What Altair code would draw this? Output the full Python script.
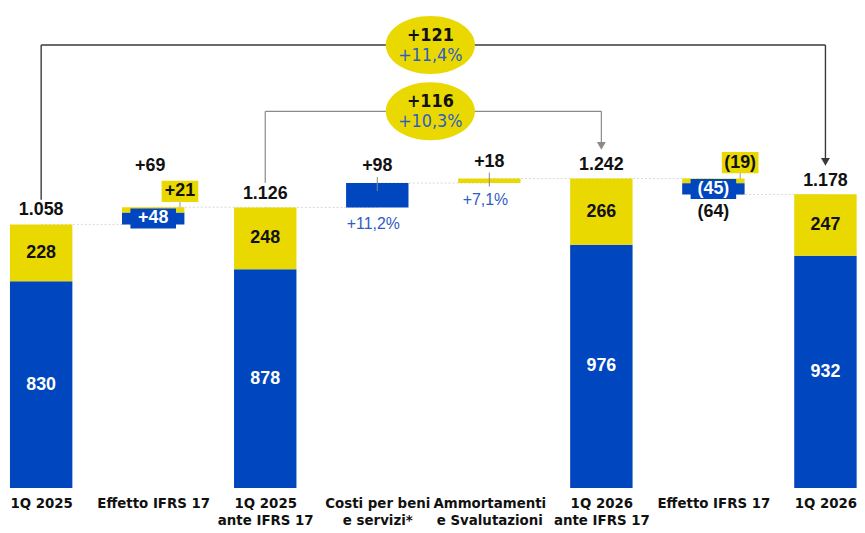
import json
import altair as alt
import pandas as pd

# ---------------- data ----------------
categories = ["1Q 2025", "Effetto IFRS 17", "1Q 2025|ante IFRS 17", "Costi per beni|e servizi*",
              "Ammortamenti|e Svalutazioni", "1Q 2026|ante IFRS 17", "Effetto IFRS 17", "1Q 2026"]
kinds = ["total", "delta", "total", "delta", "delta", "total", "delta", "total"]
blue_vals = [830, 48, 878, 98, 0, 976, -45, 932]
yellow_vals = [228, 21, 248, 0, 18, 266, -19, 247]
total_vals = [1058, 69, 1126, 98, 18, 1242, -64, 1178]
pct_labels = {3: "+11,2%", 4: "+7,1%"}
brackets = [  # from index, to index, change, change %
    {"a": 0, "b": 7, "chg": "+121", "pct": "+11,4%"},
    {"a": 2, "b": 5, "chg": "+116", "pct": "+10,3%"},
]

# ---------------- style / layout ----------------
BLUE = "#0046BE"
YELLOW = "#EAD900"
PCT_BLUE = "#2E5DC4"
FONT = "Liberation Sans"
NARROW = "'Liberation Sans Narrow', 'Arial Narrow', 'DejaVu Sans Condensed', 'Liberation Sans'"
W, H = 855, 482
X_DOM = [-0.296, 7.264]
Y_DOM = [0, 1917]
BAR_W = 63
BRACKET_LEVELS = [1778, 1512]
BRACKET_STYLE = [("#3a3a3a", 1.4), ("#8a8a8a", 1.2)]


def fmt_total(v):
    return f"{v:,}".replace(",", ".")


def fmt_delta(v):
    return f"+{v}" if v > 0 else f"({-v})"


# ---------------- derived tables ----------------
segs, inner, tops, levels = [], [], [], []
level = 0
for i, (k, b, yv, t) in enumerate(zip(kinds, blue_vals, yellow_vals, total_vals)):
    if k == "total":
        segs.append(dict(i=i, y0=0, y1=b, part="blue", kind=k))
        segs.append(dict(i=i, y0=b, y1=b + yv, part="yellow", kind=k))
        inner.append(dict(i=i, y=b / 2, text=str(b), part="blue"))
        inner.append(dict(i=i, y=b + yv / 2, text=str(yv), part="yellow"))
        level = t
        tops.append(dict(i=i, top=t, bottom=0, kind=k, text=fmt_total(t), t=t, boxes=False))
    else:
        start = level
        order = [("blue", b), ("yellow", yv)] if t > 0 else [("yellow", yv), ("blue", b)]
        cur = start
        for part, v in order:
            if v != 0:
                segs.append(dict(i=i, y0=cur, y1=cur + v, part=part, kind=k))
                if b != 0 and yv != 0:
                    inner.append(dict(i=i, y=cur + v / 2, text=fmt_delta(v), part=part + "_box"))
            cur += v
        level = cur
        tops.append(dict(i=i, top=max(start, cur), bottom=min(start, cur), kind=k,
                         text=fmt_delta(t), t=t, boxes=(b != 0 and yv != 0)))
    levels.append(dict(i=i, j=i + 1, level=level))

seg_df = pd.DataFrame(segs)
inner_df = pd.DataFrame(inner)
tops_df = pd.DataFrame(tops)
conn_df = pd.DataFrame(levels[:-1])

label_arrays = [c.split("|") for c in categories]
label_expr = json.dumps(label_arrays) + "[round(datum.value)]"

xs = alt.Scale(domain=X_DOM, nice=False, zero=False, padding=0)
ys = alt.Scale(domain=Y_DOM, nice=False, zero=False, padding=0)
x_axis = alt.Axis(values=list(range(len(categories))), labelExpr=label_expr,
                  domain=False, ticks=False, grid=False, title=None,
                  labelFont=NARROW, labelFontSize=15, labelFontWeight="bold",
                  labelColor="#111", labelPadding=8, labelLineHeight=17,
                  labelBaseline="top", labelFlush=False, labelOverlap=False, labelAlign="center")
X = lambda f="i": alt.X(f"{f}:Q", scale=xs, axis=x_axis)
Y = lambda f: alt.Y(f"{f}:Q", scale=ys, axis=None)

base = alt.Chart(seg_df)

connectors = alt.Chart(conn_df).mark_rule(color="#d8d8d8", strokeDash=[2, 2], strokeWidth=1).encode(
    x=X("i"), x2="j:Q", y=Y("level"))

color_enc = alt.Color("part:N", scale=alt.Scale(domain=["blue", "yellow"], range=[BLUE, YELLOW]), legend=None)
bars = base.mark_bar(size=BAR_W).encode(x=X(), y=Y("y0"), y2="y1:Q", color=color_enc)

# leader lines
tops_chart = alt.Chart(tops_df)
leaders_box = tops_chart.transform_filter("datum.boxes == true").mark_rule(
    color="#999", strokeWidth=1, xOffset=27, y2Offset=-6).encode(x=X(), y=Y("top"), y2="top:Q")
leaders_c = tops_chart.transform_filter("datum.kind == 'delta' && datum.boxes != true").mark_rule(
    color="#888", strokeWidth=1, yOffset=-6, y2Offset=8).encode(x=X(), y=Y("top"), y2="top:Q")

# text labels
total_lbl = tops_chart.transform_filter("datum.kind == 'total'").mark_text(
    font=FONT, fontSize=18, fontWeight="bold", color="#111", dy=-14, baseline="middle").encode(
    x=X(), y=Y("top"), text="text:N")

inner_chart = alt.Chart(inner_df)
inner_blue = inner_chart.transform_filter("datum.part == 'blue'").mark_text(
    font=FONT, fontSize=18, fontWeight="bold", color="white", baseline="middle").encode(
    x=X(), y=Y("y"), text="text:N")
inner_yellow = inner_chart.transform_filter("datum.part == 'yellow'").mark_text(
    font=FONT, fontSize=18, fontWeight="bold", color="#111", baseline="middle").encode(
    x=X(), y=Y("y"), text="text:N")

box_blue = inner_chart.transform_filter("datum.part == 'blue_box'")
blue_box_bg = box_blue.mark_point(shape="M-1,-0.44H1V0.44H-1Z", size=2116, filled=True, opacity=1,
                                  color=BLUE, strokeWidth=0).encode(x=X(), y=Y("y"))
blue_box_txt = box_blue.mark_text(font=FONT, fontSize=18, fontWeight="bold", color="white",
                                  baseline="middle").encode(x=X(), y=Y("y"), text="text:N")

yel_df = pd.DataFrame([dict(i=r["i"], y=t["top"], text=r["text"]) for r in inner
                       if r["part"] == "yellow_box" for t in tops if t["i"] == r["i"]])
yel_chart = alt.Chart(yel_df)
yel_box_bg = yel_chart.mark_point(shape="M-1,-0.58H1V0.58H-1Z", size=1369, filled=True, opacity=1,
                                  color=YELLOW, strokeWidth=0, xOffset=27, yOffset=-16).encode(x=X(), y=Y("y"))
yel_box_txt = yel_chart.mark_text(font=FONT, fontSize=18, fontWeight="bold", color="#111",
                                  baseline="middle", dx=27, dy=-16).encode(x=X(), y=Y("y"), text="text:N")

delta_above_box = tops_chart.transform_filter("datum.kind == 'delta' && datum.t > 0 && datum.boxes == true").mark_text(
    font=FONT, fontSize=18, fontWeight="bold", color="#111", dy=-42, dx=-3, baseline="middle").encode(
    x=X(), y=Y("top"), text="text:N")
delta_above = tops_chart.transform_filter("datum.kind == 'delta' && datum.t > 0 && datum.boxes != true").mark_text(
    font=FONT, fontSize=18, fontWeight="bold", color="#111", dy=-17, baseline="middle").encode(
    x=X(), y=Y("top"), text="text:N")
delta_below = tops_chart.transform_filter("datum.kind == 'delta' && datum.t < 0").mark_text(
    font=FONT, fontSize=18, fontWeight="bold", color="#111", dy=18, baseline="middle").encode(
    x=X(), y=Y("bottom"), text="text:N")

pct_df = pd.DataFrame([dict(i=i, text=s, bottom=next(t["bottom"] for t in tops if t["i"] == i))
                       for i, s in pct_labels.items()])
pct_lbl = alt.Chart(pct_df).mark_text(font=FONT, fontSize=16, color=PCT_BLUE, dy=17, dx=-4,
                                      baseline="middle").encode(x=X(), y=Y("bottom"), text="text:N")

# brackets
bracket_layers = []
for br, lvl, (col, sw) in zip(brackets, BRACKET_LEVELS, BRACKET_STYLE):
    ta = total_vals[br["a"]]
    tb = total_vals[br["b"]]
    hdf = pd.DataFrame([dict(a=br["a"], b=br["b"], lvl=lvl, ta=ta, tb=tb,
                             mid=(br["a"] + br["b"]) / 2, chg=br["chg"], pct=br["pct"])])
    hc = alt.Chart(hdf)
    bracket_layers += [
        hc.mark_rule(color=col, strokeWidth=sw).encode(x=X("a"), x2="b:Q", y=Y("lvl")),
        hc.mark_rule(color=col, strokeWidth=sw, y2Offset=-25).encode(x=X("a"), y=Y("lvl"), y2="ta:Q"),
        hc.mark_rule(color=col, strokeWidth=sw, y2Offset=-33).encode(x=X("b"), y=Y("lvl"), y2="tb:Q"),
        hc.mark_point(shape="triangle-down", size=80, filled=True, opacity=1, color=col,
                      yOffset=-33).encode(x=X("b"), y=Y("tb")),
        hc.mark_point(shape="M-1,0A1,0.65 0 1,1 1,0A1,0.65 0 1,1 -1,0Z", size=8100, filled=True,
                      opacity=1, color=YELLOW, strokeWidth=0, xOffset=-3).encode(x=X("mid"), y=Y("lvl")),
        hc.mark_text(font=NARROW, fontSize=18, fontWeight="bold", color="#111", dy=-9, dx=-3,
                     baseline="middle").encode(x=X("mid"), y=Y("lvl"), text="chg:N"),
        hc.mark_text(font=NARROW, fontSize=18, color=PCT_BLUE, dy=11, dx=-3,
                     baseline="middle").encode(x=X("mid"), y=Y("lvl"), text="pct:N"),
    ]

chart = alt.layer(
    connectors, bars, leaders_c, leaders_box,
    total_lbl, inner_blue, inner_yellow, blue_box_bg, blue_box_txt, yel_box_bg, yel_box_txt,
    delta_above_box, delta_above, delta_below, pct_lbl, *bracket_layers,
).properties(width=W, height=H, padding=0, background="white").configure_view(stroke=None)

chart.save("out.html", embed_options={"renderer": "svg", "actions": False})
